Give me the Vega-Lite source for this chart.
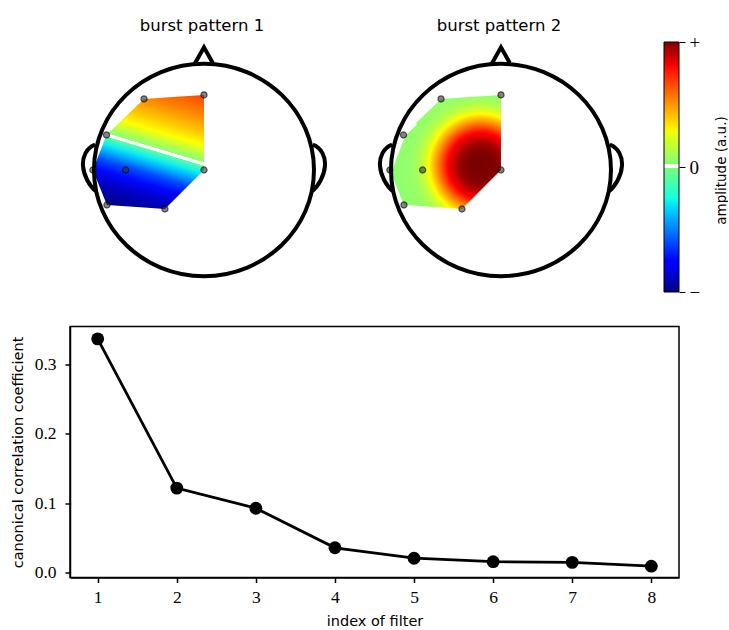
{
  "$schema": "https://vega.github.io/schema/vega-lite/v6.json",
  "padding": {"left": 9, "top": 17, "right": 0, "bottom": 0},
  "background": "white",
  "datasets": {
    "outline": [{"hx": 0, "hy": 0}],
    "hull": [
      {"hx": -1.01, "top": 0.0, "bot": 0.0},
      {"hx": -0.886, "top": 0.33, "bot": -0.32},
      {"hx": -0.882, "top": 0.334, "bot": -0.33},
      {"hx": -0.545, "top": 0.67, "bot": -0.354},
      {"hx": -0.355, "top": 0.683, "bot": -0.368},
      {"hx": 0.0, "top": 0.708, "bot": 0.0}
    ],
    "elec": [
      {"hx": -0.545, "hy": 0.67},
      {"hx": 0.0, "hy": 0.708},
      {"hx": -0.886, "hy": 0.33},
      {"hx": -1.01, "hy": 0.0},
      {"hx": -0.712, "hy": 0.0},
      {"hx": 0.0, "hy": 0.0},
      {"hx": -0.882, "hy": -0.33},
      {"hx": -0.355, "hy": -0.368}
    ],
    "contour2": [
      {"hx": -0.99, "hy": 0.03, "k": 1},
      {"hx": -0.88, "hy": 0.33, "k": 2},
      {"hx": -0.77, "hy": 0.44, "k": 3}
    ],
    "cbar": [{"lo": -1, "hi": 1}],
    "cc": [
      {"filter": 1, "cc": 0.337},
      {"filter": 2, "cc": 0.122},
      {"filter": 3, "cc": 0.093},
      {"filter": 4, "cc": 0.036},
      {"filter": 5, "cc": 0.021},
      {"filter": 6, "cc": 0.016},
      {"filter": 7, "cc": 0.015},
      {"filter": 8, "cc": 0.0095}
    ]
  },
  "vconcat": [
    {
      "hconcat": [
        {
          "width": 264,
          "height": 250,
          "title": {"text": "burst pattern 1", "anchor": "middle", "baseline": "alphabetic", "offset": -8, "frame": "group"},
          "view": {"stroke": null},
          "layer": [
            {
              "data": {"name": "hull"},
              "mark": {"type": "area", "fillOpacity": 1, "fill": {"gradient": "linear", "x1": 1, "y1": 0, "x2": 0.68, "y2": 1.095, "stops": [
                {"offset": 0, "color": "#ff4400"},
                {"offset": 0.16, "color": "#ff8800"},
                {"offset": 0.3, "color": "#ffd200"},
                {"offset": 0.37, "color": "#ffff00"},
                {"offset": 0.44, "color": "#baff45"},
                {"offset": 0.495, "color": "#8cff73"},
                {"offset": 0.5, "color": "#ffffff"},
                {"offset": 0.52, "color": "#ffffff"},
                {"offset": 0.525, "color": "#5cffa3"},
                {"offset": 0.58, "color": "#10f0ee"},
                {"offset": 0.63, "color": "#00b4ff"},
                {"offset": 0.7, "color": "#0050ff"},
                {"offset": 0.78, "color": "#0008ff"},
                {"offset": 0.88, "color": "#0000c4"},
                {"offset": 1, "color": "#00008c"}
              ]}},
              "encoding": {
                "x": {"field": "hx", "type": "quantitative", "scale": {"domain": [-1.218, 1.182], "nice": false, "zero": false}, "axis": null},
                "y": {"field": "top", "type": "quantitative", "scale": {"domain": [-1.151, 1.2075], "nice": false, "zero": false}, "axis": null},
                "y2": {"field": "bot"}
              }
            },
            {
              "data": {"name": "elec"},
              "mark": {"type": "circle", "size": 38, "fill": "#333333", "fillOpacity": 0.6, "stroke": "#000000", "strokeOpacity": 0.6, "strokeWidth": 1.2},
              "encoding": {
                "x": {"field": "hx", "type": "quantitative", "scale": {"domain": [-1.218, 1.182], "nice": false, "zero": false}, "axis": null},
                "y": {"field": "hy", "type": "quantitative", "scale": {"domain": [-1.151, 1.2075], "nice": false, "zero": false}, "axis": null}
              }
            },
            {
              "data": {"name": "outline"},
              "mark": {"type": "point", "shape": "M -1 0 C -1 -0.533 -0.5523 -0.965 0 -0.965 C 0.5523 -0.965 1 -0.533 1 0 C 1 0.533 0.5523 0.965 0 0.965 C -0.5523 0.965 -1 0.533 -1 0 Z M -0.08 -0.972 L 0 -1.115 L 0.08 -0.972 M -0.99 -0.23 C -1.07 -0.2 -1.105 -0.12 -1.1 -0.04 C -1.095 0.05 -1.04 0.15 -0.975 0.2 M 0.99 -0.23 C 1.07 -0.2 1.105 -0.12 1.1 -0.04 C 1.095 0.05 1.04 0.15 0.975 0.2", "size": 48400, "filled": false, "stroke": "black", "strokeWidth": 4, "opacity": 1, "strokeJoin": "miter"},
              "encoding": {
                "x": {"field": "hx", "type": "quantitative", "scale": {"domain": [-1.218, 1.182], "nice": false, "zero": false}, "axis": null},
                "y": {"field": "hy", "type": "quantitative", "scale": {"domain": [-1.151, 1.2075], "nice": false, "zero": false}, "axis": null}
              }
            }
          ]
        },
        {
          "width": 264,
          "height": 250,
          "title": {"text": "burst pattern 2", "anchor": "middle", "baseline": "alphabetic", "offset": -8, "frame": "group"},
          "view": {"stroke": null},
          "layer": [
            {
              "data": {"name": "hull"},
              "mark": {"type": "area", "fillOpacity": 1, "fill": {"gradient": "radial", "x1": 0.811, "y1": 0.62, "r1": 0, "x2": 0.811, "y2": 0.62, "r2": 0.76, "stops": [
                {"offset": 0, "color": "#780000"},
                {"offset": 0.16, "color": "#800000"},
                {"offset": 0.26, "color": "#a00000"},
                {"offset": 0.32, "color": "#d40000"},
                {"offset": 0.38, "color": "#ff0000"},
                {"offset": 0.45, "color": "#ff5000"},
                {"offset": 0.5, "color": "#ff8c00"},
                {"offset": 0.555, "color": "#ffc800"},
                {"offset": 0.6, "color": "#ffff00"},
                {"offset": 0.65, "color": "#d6ff2a"},
                {"offset": 0.71, "color": "#b2ff4c"},
                {"offset": 0.8, "color": "#98ff66"},
                {"offset": 1, "color": "#8cff72"}
              ]}},
              "encoding": {
                "x": {"field": "hx", "type": "quantitative", "scale": {"domain": [-1.218, 1.182], "nice": false, "zero": false}, "axis": null},
                "y": {"field": "top", "type": "quantitative", "scale": {"domain": [-1.151, 1.2075], "nice": false, "zero": false}, "axis": null},
                "y2": {"field": "bot"}
              }
            },
            {
              "data": {"name": "contour2"},
              "mark": {"type": "line", "stroke": "white", "strokeWidth": 2.5},
              "encoding": {
                "x": {"field": "hx", "type": "quantitative", "scale": {"domain": [-1.218, 1.182], "nice": false, "zero": false}, "axis": null},
                "y": {"field": "hy", "type": "quantitative", "scale": {"domain": [-1.151, 1.2075], "nice": false, "zero": false}, "axis": null},
                "order": {"field": "k"}
              }
            },
            {
              "data": {"name": "elec"},
              "mark": {"type": "circle", "size": 38, "fill": "#333333", "fillOpacity": 0.6, "stroke": "#000000", "strokeOpacity": 0.6, "strokeWidth": 1.2},
              "encoding": {
                "x": {"field": "hx", "type": "quantitative", "scale": {"domain": [-1.218, 1.182], "nice": false, "zero": false}, "axis": null},
                "y": {"field": "hy", "type": "quantitative", "scale": {"domain": [-1.151, 1.2075], "nice": false, "zero": false}, "axis": null}
              }
            },
            {
              "data": {"name": "outline"},
              "mark": {"type": "point", "shape": "M -1 0 C -1 -0.533 -0.5523 -0.965 0 -0.965 C 0.5523 -0.965 1 -0.533 1 0 C 1 0.533 0.5523 0.965 0 0.965 C -0.5523 0.965 -1 0.533 -1 0 Z M -0.08 -0.972 L 0 -1.115 L 0.08 -0.972 M -0.99 -0.23 C -1.07 -0.2 -1.105 -0.12 -1.1 -0.04 C -1.095 0.05 -1.04 0.15 -0.975 0.2 M 0.99 -0.23 C 1.07 -0.2 1.105 -0.12 1.1 -0.04 C 1.095 0.05 1.04 0.15 0.975 0.2", "size": 48400, "filled": false, "stroke": "black", "strokeWidth": 4, "opacity": 1, "strokeJoin": "miter"},
              "encoding": {
                "x": {"field": "hx", "type": "quantitative", "scale": {"domain": [-1.218, 1.182], "nice": false, "zero": false}, "axis": null},
                "y": {"field": "hy", "type": "quantitative", "scale": {"domain": [-1.151, 1.2075], "nice": false, "zero": false}, "axis": null}
              }
            }
          ]
        },
        {
          "width": 15,
          "height": 250,
          "view": {"stroke": null},
          "data": {"name": "cbar"},
          "mark": {"type": "rect", "stroke": "black", "strokeWidth": 1, "fill": {"gradient": "linear", "x1": 0, "y1": 1, "x2": 0, "y2": 0, "stops": [
            {"offset": 0, "color": "#000080"},
            {"offset": 0.11, "color": "#0000ff"},
            {"offset": 0.125, "color": "#0000ff"},
            {"offset": 0.34, "color": "#00dbff"},
            {"offset": 0.375, "color": "#14ffe2"},
            {"offset": 0.494, "color": "#76ff80"},
            {"offset": 0.497, "color": "#ffffff"},
            {"offset": 0.511, "color": "#ffffff"},
            {"offset": 0.514, "color": "#82ff74"},
            {"offset": 0.64, "color": "#eeff08"},
            {"offset": 0.66, "color": "#ffec00"},
            {"offset": 0.89, "color": "#ff1300"},
            {"offset": 0.91, "color": "#f30000"},
            {"offset": 1, "color": "#800000"}
          ]}},
          "encoding": {
            "y": {"field": "lo", "type": "quantitative", "scale": {"domain": [-1, 1], "nice": false, "zero": false},
              "axis": {"orient": "right", "values": [-1, 0, 1], "labelExpr": "datum.value > 0 ? '+' : (datum.value < 0 ? '\u2212' : '0')", "domain": false, "tickSize": 6, "tickWidth": 1, "labelFontSize": 19, "labelPadding": 4, "labelBaseline": "middle", "title": "amplitude (a.u.)", "titleAngle": 270, "titleBaseline": "middle", "titleAlign": "center", "titleX": 42, "titleY": 128, "titleFontSize": 13.5}},
            "y2": {"field": "hi"}
          }
        }
      ],
      "spacing": 33,
      "bounds": "flush"
    },
    {
      "width": 609,
      "height": 251,
      "data": {"name": "cc"},
      "view": {"stroke": "black", "strokeWidth": 1.5},
      "encoding": {
        "x": {"field": "filter", "type": "quantitative", "scale": {"domain": [0.65, 8.35], "nice": false, "zero": false},
          "axis": {"values": [1, 2, 3, 4, 5, 6, 7, 8], "format": "d", "title": "index of filter", "labelPadding": 6, "titleY": 48, "titleBaseline": "alphabetic"}},
        "y": {"field": "cc", "type": "quantitative", "scale": {"domain": [-0.0068, 0.3548], "nice": false, "zero": false},
          "axis": {"values": [0, 0.1, 0.2, 0.3], "format": ".1f", "title": "canonical correlation coefficient", "labelPadding": 9, "titleAngle": 270, "titleX": -52, "titleY": 125.5, "titleBaseline": "middle", "titleAlign": "center"}}
      },
      "layer": [
        {"mark": {"type": "line", "color": "black", "strokeWidth": 2.8}},
        {"mark": {"type": "circle", "color": "black", "size": 165, "opacity": 1}}
      ]
    }
  ],
  "spacing": 23.5,
  "bounds": "full",
  "config": {
    "view": {"stroke": null},
    "axis": {"grid": false, "domainColor": "black", "tickColor": "black", "labelColor": "black", "titleColor": "black", "labelFont": "Liberation Serif", "labelFontSize": 17.5, "titleFont": "DejaVu Sans", "titleFontSize": 14.5, "titleFontWeight": "normal", "tickWidth": 1.5, "domainWidth": 1.5, "tickSize": 5, "labelFlush": false, "labelOverlap": false},
    "title": {"font": "DejaVu Sans", "fontWeight": "normal", "fontSize": 16.5, "color": "black"}
  }
}
